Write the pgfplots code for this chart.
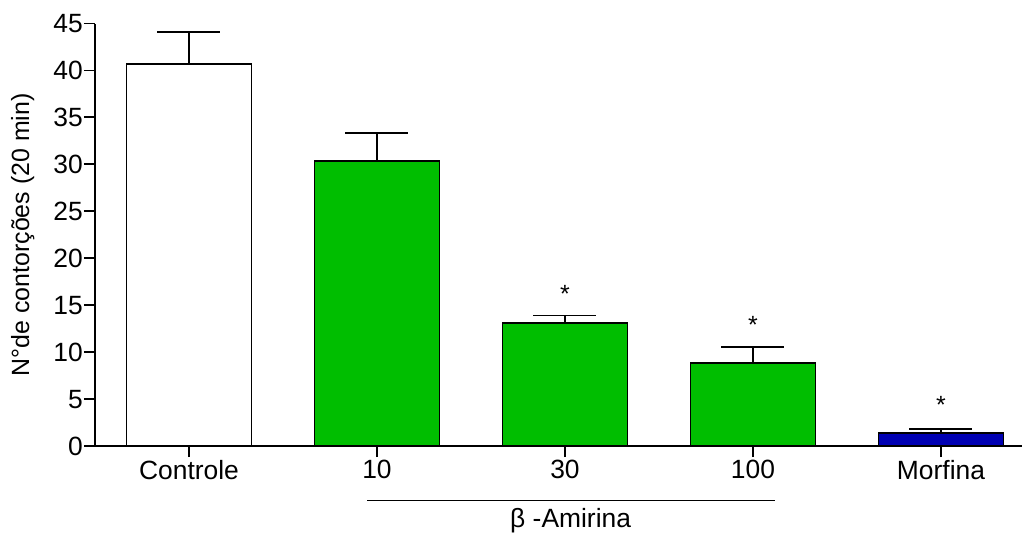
\documentclass[border=0pt]{standalone}
\usepackage{pgfplots}
\pgfplotsset{compat=1.18}
\usepackage{fontspec}
\setmainfont{Liberation Sans}

\definecolor{barGreen}{RGB}{0,190,0}
\definecolor{barBlue}{RGB}{0,0,178}

\newcommand{\lblfont}{\fontsize{25}{30}\selectfont}
\newcommand{\tickfont}{\fontsize{26.5}{32}\selectfont}

% bars with upper error bars (mean + SEM)
\pgfplotsset{
  barstyle/.style={
    ybar, bar shift=0pt, bar width=0.665,
    draw=black, line width=1.8bp,
    error bars/y dir=plus,
    error bars/y explicit,
    error bars/error bar style={line width=1.8bp, black},
    error bars/error mark options={rotate=90, mark size=31.5bp, line width=1.8bp, black},
  },
}

\begin{document}
\begin{tikzpicture}
\begin{axis}[
  scale only axis,
  width=927bp, height=422.5bp,
  xmin=-0.5, xmax=4.431,
  ymin=0, ymax=45,
  axis x line*=bottom, axis y line*=left,
  axis line style={-, line width=1.8bp, black},
  xtick={0,1,2,3,4},
  xticklabels={Controle,10,30,100,Morfina},
  ytick={0,5,...,45},
  tick align=outside,
  major tick length=11bp,
  tick style={line width=1.8bp, black},
  tick label style={font=\tickfont, inner sep=1bp},
  xticklabel style={yshift=-2bp},
  /pgf/number format/assume math mode=true,
  ylabel={N°de contorções (20 min)},
  ylabel style={font=\lblfont, anchor=center, at={(axis description cs:-0.078,0.5)}},
  clip=false,
]

\addplot[barstyle, fill=white] coordinates {(0,40.65) +- (0,3.45)};
\addplot[barstyle, fill=barGreen] coordinates {
  (1,30.38) +- (0,2.99)
  (2,13.07) +- (0,0.83)
  (3,8.87)  +- (0,1.67)
};
\addplot[barstyle, fill=barBlue] coordinates {(4,1.38) +- (0,0.43)};

% significance asterisks
\addplot[only marks, mark=text, text mark={*}, text mark as node=true,
  text mark style={font=\lblfont, anchor=base, inner sep=0pt}]
  coordinates {(2,15.3) (3,12.0) (4,3.5)};

% group bracket for the beta-amyrin doses
\draw[line width=1.5bp] (axis cs:0.947,-5.83) -- (axis cs:3.117,-5.83);
\node[font=\tickfont, anchor=base] at (axis cs:2.03,-8.63) {β -Amirina};
\end{axis}
\pgfresetboundingbox
\path[use as bounding box] (current axis.south west) ++(-95bp,-93bp) rectangle ++(1022bp,539bp);
\end{tikzpicture}
\end{document}
